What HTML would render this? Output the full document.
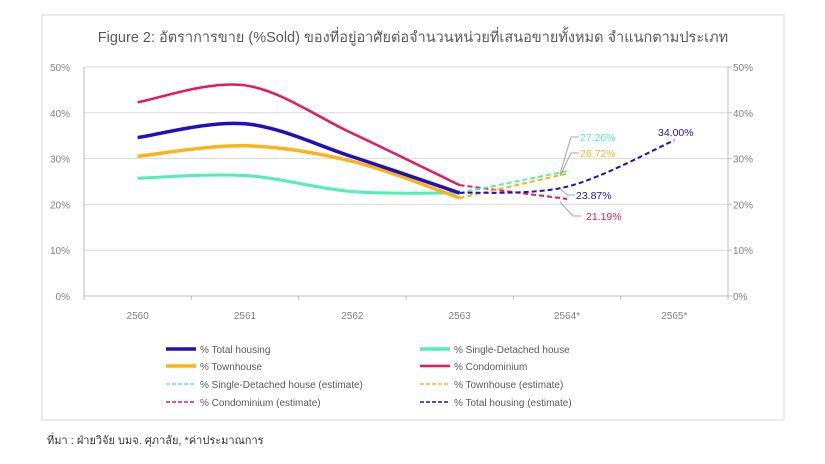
<!DOCTYPE html>
<html><head><meta charset="utf-8"><style>
body{margin:0;background:#fff;font-family:"Liberation Sans","Noto Sans CJK SC",sans-serif}
</style></head><body>
<svg width="825" height="464" style="display:block">
<rect x="42" y="15" width="742" height="405" fill="#fff" stroke="#d9d9d9"/>
<text x="413" y="42" text-anchor="middle" font-size="14.5" fill="#595959" font-family="Liberation Sans, Noto Sans CJK SC, sans-serif">Figure 2: อัตราการขาย (%Sold) ของที่อยู่อาศัยต่อจำนวนหน่วยที่เสนอขายทั้งหมด จำแนกตามประเภท</text>
<g id="grid"></g><g id="series"></g><g id="labels"></g><g id="legend"></g>
<text x="47" y="444" font-size="11" fill="#333">ที่มา : ฝ่ายวิจัย บมจ. ศุภาลัย, *ค่าประมาณการ</text>
</svg>
<script>
const categories=["2560","2561","2562","2563","2564*","2565*"];
const yTicks=[0,10,20,30,40,50];
const totalHousing=[34.6,37.6,30.4,22.5];
const singleDetached=[25.7,26.3,22.8,22.5];
const townhouse=[30.5,32.8,29.4,21.4];
const condominium=[42.3,46.0,35.5,24.2];
const singleEst=[22.5,27.26];
const townEst=[21.4,26.72];
const condoEst=[24.2,21.19];
const totalEst=[22.5,23.87,34.0];
const NS="http://www.w3.org/2000/svg";
const L=84,R=728,T=67,B=296;
const band=(R-L)/categories.length;
const xS=i=>L+band*(i+0.5);
const yS=v=>B-(v/50)*(B-T);
function mk(tag,attrs,parent){const e=document.createElementNS(NS,tag);for(const k in attrs)e.setAttribute(k,attrs[k]);parent.appendChild(e);return e;}
const grid=document.getElementById('grid');
yTicks.forEach(t=>{
 const l=mk('line',{x1:L,x2:R,y1:yS(t),y2:yS(t),stroke:t===0?'#bfbfbf':'#d9d9d9'},grid);
 
 
 const a=mk('text',{x:70,y:yS(t)+4,'text-anchor':'end','font-size':10,fill:'#7f7f7f'},grid);a.textContent=t+'%';
 
 
 const b=mk('text',{x:733,y:yS(t)+4,'font-size':10,fill:'#7f7f7f'},grid);b.textContent=t+'%';
 
 
 mk('line',{x1:R,x2:R+4,y1:yS(t),y2:yS(t),stroke:'#bfbfbf'},grid);
});
mk('line',{x1:L,x2:L,y1:T,y2:B,stroke:'#bfbfbf'},grid);
mk('line',{x1:R,x2:R,y1:T,y2:B,stroke:'#bfbfbf'},grid);
categories.forEach((c,i)=>{
 mk('line',{x1:L+band*i,x2:L+band*i,y1:B,y2:B+4,stroke:'#bfbfbf'},grid);
 const t=mk('text',{x:xS(i),y:319,'text-anchor':'middle','font-size':10,fill:'#7f7f7f'},grid);t.textContent=c;
 
 
});
mk('line',{x1:R,x2:R,y1:B,y2:B+4,stroke:'#bfbfbf'},grid);
function smooth(vals,off){
 const p=vals.map((v,i)=>[xS(i+off),yS(v)]);
 let d='M'+p[0][0]+','+p[0][1];
 for(let i=0;i<p.length-1;i++){
  const p0=p[i-1]||p[i],p1=p[i],p2=p[i+1],p3=p[i+2]||p2;
  const c1=[p1[0]+(p2[0]-p0[0])/6,p1[1]+(p2[1]-p0[1])/6];
  const c2=[p2[0]-(p3[0]-p1[0])/6,p2[1]-(p3[1]-p1[1])/6];
  d+=` C${c1[0]},${c1[1]} ${c2[0]},${c2[1]} ${p2[0]},${p2[1]}`;
 }
 return d;
}
const S=document.getElementById('series');
function line(vals,off,color,w,dash,name){
 const e=mk('path',{d:smooth(vals,off),fill:'none',stroke:color,'stroke-width':w,'stroke-dasharray':dash||'none'},S);
 
 
}
line(condominium,0,'#e8175d',2.5,null,'series-condominium');
line(singleDetached,0,'#4ff0b4',3,null,'series-single-detached');
line(townhouse,0,'#fbb416',3.5,null,'series-townhouse');
line(totalHousing,0,'#1f0fbf',3.5,null,'series-total-housing');
line(condoEst,3,'#e8175d',2,'5,3','series-condominium-estimate');
line(singleEst,3,'#4ff0b4',2,'5,3','series-single-detached-estimate');
line(townEst,3,'#fbb416',2,'5,3','series-townhouse-estimate');
line(totalEst,3,'#1f0fbf',2,'5,3','series-total-housing-estimate');
const LB=document.getElementById('labels');
function lbl(txt,color,x,y,lx1,ly1,lx2,ly2,name){
 if(lx1!==null)mk('polyline',{points:`${lx1},${ly1} ${lx2},${ly2} ${lx2+8},${ly2}`,fill:'none',stroke:'#a6a6a6'},LB);
 const t=mk('text',{x:x,y:y,'font-size':10.5,fill:color},LB);t.textContent=txt;
 
 
}
lbl(singleEst[1].toFixed(2)+'%','#4ff0b4',580,141,560,174,571,137,'label-single-estimate');
lbl(townEst[1].toFixed(2)+'%','#fbb416',580,157,560,176,571,153,'label-townhouse-estimate');
lbl(totalEst[1].toFixed(2)+'%','#1f0fbf',576,199,560,188,567,195,'label-total-2564');
lbl(condoEst[1].toFixed(2)+'%','#e8175d',586,220,560,202,573,216,'label-condo-estimate');
lbl(totalEst[2].toFixed(2)+'%','#1f0fbf',658,136,null,0,0,0,'label-total-2565');
const LG=document.getElementById('legend');
const items=[
 ['% Total housing','#1f0fbf',3.5,null,166,349],['% Single-Detached house','#4ff0b4',3.5,null,420,349],
 ['% Townhouse','#fbb416',3.5,null,166,366],['% Condominium','#e8175d',2.5,null,420,366],
 ['% Single-Detached house (estimate)','#4ff0b4',1.5,'4,2',166,384],['% Townhouse (estimate)','#fbb416',1.5,'4,2',420,384],
 ['% Condominium (estimate)','#e8175d',1.5,'4,2',166,402],['% Total housing (estimate)','#1f0fbf',1.5,'4,2',420,402]];
items.forEach(it=>{
 const g=mk('g',{},LG);
 
 
 mk('line',{x1:it[4],x2:it[4]+30,y1:it[5],y2:it[5],stroke:it[1],'stroke-width':it[2],'stroke-dasharray':it[3]||'none'},g);
 const t=mk('text',{x:it[4]+34,y:it[5]+4,'font-size':10,fill:'#595959'},g);t.textContent=it[0];
});
</script>
</body></html>
